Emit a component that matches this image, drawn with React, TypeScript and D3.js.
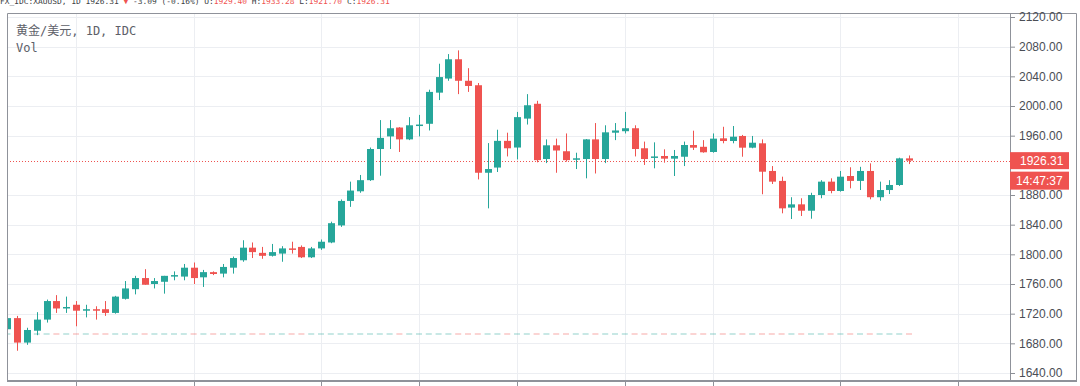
import React, { useEffect, useRef } from 'react';
import * as d3 from 'd3';

// XAUUSD daily candles (oldest first)
const opens = [
  1699, 1714, 1681, 1697, 1712, 1737, 1727, 1732, 1724, 1726,
  1726, 1721, 1740, 1753, 1768, 1760, 1763, 1770, 1770, 1782,
  1769, 1776, 1774, 1782, 1792, 1809, 1802, 1798, 1801, 1808,
  1810, 1796, 1808, 1816, 1839, 1872, 1885, 1900, 1942, 1959,
  1971, 1955, 1974, 1976, 2018, 2037, 2063, 2034, 2028, 1910,
  1917, 1953, 1944, 1983, 2003, 1928.5, 1947, 1939, 1928, 1928.5,
  1955, 1928.5, 1964, 1966, 1970, 1943, 1930, 1932.6, 1929, 1931.6,
  1947.4, 1945, 1938, 1956.4, 1952.8, 1959.6, 1943.8, 1949.7, 1912.4, 1899,
  1863, 1867.4, 1858.8, 1880, 1898, 1885.4, 1905.6, 1899, 1912.4, 1877,
  1886.7, 1893.5, 1929.4,
];
const highs = [
  1716, 1717, 1701, 1722, 1739, 1745, 1743, 1737, 1732, 1730,
  1737, 1744, 1764, 1771, 1780, 1768, 1771, 1777, 1787, 1789,
  1779, 1777, 1787, 1797, 1819, 1816, 1810, 1814, 1811, 1817,
  1812, 1810, 1820, 1844, 1874, 1898, 1907, 1944, 1981, 1981,
  1971.5, 1985, 1988, 2022, 2057, 2070, 2075, 2051, 2031, 1950,
  1968, 1964, 1992, 2016, 2007, 1955, 1956, 1963, 1937, 1955.5,
  1977, 1974, 1977, 1992, 1974, 1952, 1951, 1941.6, 1940.7, 1952,
  1966.7, 1954, 1963, 1972, 1973, 1961, 1959.6, 1955, 1919, 1904.7,
  1877, 1875.6, 1883, 1900, 1902.5, 1912.4, 1917.4, 1918, 1922.7, 1898,
  1900, 1930.3, 1933.28,
];
const lows = [
  1696, 1670, 1678, 1691, 1708, 1721, 1721, 1703, 1715, 1712,
  1717, 1720, 1739, 1746, 1759, 1754, 1747, 1765, 1765, 1760,
  1756, 1772, 1769, 1774, 1790, 1795, 1794, 1797, 1790, 1801,
  1795, 1795, 1806, 1815, 1837, 1864, 1883, 1899, 1906, 1942,
  1938, 1954, 1959, 1967, 2008, 2034, 2016, 2019, 1901, 1862,
  1911, 1932, 1928, 1975, 1924, 1923, 1910, 1925, 1915, 1902.5,
  1909, 1923, 1954, 1963, 1932, 1920.5, 1916, 1923.6, 1905.6, 1919,
  1940.7, 1937, 1937, 1949.7, 1949.7, 1931.6, 1943, 1881, 1894.8, 1855.3,
  1847.6, 1851.7, 1848, 1875.6, 1882.3, 1884.5, 1889, 1886.7, 1874.2, 1872.3,
  1881.3, 1892.2, 1921.7,
];
const closes = [
  1714, 1681, 1698, 1712, 1737, 1727, 1729, 1724, 1726, 1724,
  1721, 1743, 1754, 1768, 1759, 1764, 1771, 1772, 1782, 1768,
  1776, 1773.5, 1783, 1795, 1809, 1803, 1798, 1803, 1808, 1806.6,
  1796, 1808, 1817, 1842, 1872, 1886, 1900, 1942, 1957, 1970,
  1955, 1974, 1975, 2019, 2039, 2063, 2034, 2027, 1910, 1915,
  1953, 1943, 1985, 2001, 1927, 1947, 1940, 1927, 1929.5, 1955,
  1928.5, 1964.5, 1967, 1970, 1942, 1928.5, 1932, 1929, 1932.6, 1947.4,
  1943.8, 1937.6, 1956, 1952.8, 1958.6, 1943.8, 1950.5, 1911.4, 1898, 1862,
  1867.4, 1858.8, 1880, 1898, 1885.4, 1904.7, 1899, 1912.4, 1877, 1886.7,
  1893.5, 1929.4, 1926.31,
];

const priceTicks = [1640, 1680, 1720, 1760, 1800, 1840, 1880, 1920, 1960, 2000, 2040, 2080, 2120]
  .filter(v => v !== 1920);
const gridBars = [7, 19, 32, 42, 52, 63, 72, 85, 97];

const lastPrice = 1926.31;
const lastPriceLabel = '1926.31';
const countdownLabel = '14:47:37';
const legendTitle = '黄金/美元, 1D, IDC';
const volLabel = 'Vol';
const headerParts: [string, boolean][] = [
  ['FX_IDC:XAUUSD, 1D 1926.31 ', false],
  ['▼ ', true],
  ['-3.09 (-0.16%) O:', false],
  ['1929.40', true],
  [' H:', false],
  ['1933.28', true],
  [' L:', false],
  ['1921.70', true],
  [' C:', false],
  ['1926.31', true],
];

const UP = '#26a69a';
const DOWN = '#ef5350';

const App: React.FC = () => {
  const svgRef = useRef<SVGSVGElement>(null);

  useEffect(() => {
    if (!svgRef.current) return;
    const width = 1080;
    const height = 386;
    const pane = { left: 7, top: 13, right: 1010, bottom: 380, outer: 1076 };

    const svg = d3.select(svgRef.current).attr('width', width).attr('height', height);
    svg.selectAll('*').remove();

    const x = d3.scaleLinear().domain([0, 92]).range([7.4, 909]);
    const y = d3.scaleLinear().domain([1640, 2120]).range([373, 17]);

    svg.append('rect').attr('width', width).attr('height', height).attr('fill', '#fff');

    svg.append('defs').append('clipPath').attr('id', 'pane')
      .append('rect')
      .attr('x', pane.left).attr('y', pane.top)
      .attr('width', pane.right - pane.left).attr('height', pane.bottom - pane.top);

    // grid
    const grid = svg.append('g').attr('stroke', '#eceef2').attr('stroke-width', 1);
    grid.selectAll('line.h').data(priceTicks).join('line')
      .attr('x1', pane.left).attr('x2', pane.right)
      .attr('y1', d => Math.round(y(d)) + 0.5).attr('y2', d => Math.round(y(d)) + 0.5);
    grid.selectAll('line.v').data(gridBars).join('line')
      .attr('x1', d => Math.round(x(d)) + 0.5).attr('x2', d => Math.round(x(d)) + 0.5)
      .attr('y1', pane.top).attr('y2', pane.bottom);

    const idx = d3.range(opens.length);
    const plot = svg.append('g').attr('clip-path', 'url(#pane)');

    // volume (flat, near zero)
    plot.append('g').selectAll('rect').data(idx).join('rect')
      .attr('x', i => x(i) - 3).attr('y', 333.5)
      .attr('width', 6).attr('height', 1)
      .attr('fill', i => (closes[i] >= opens[i] ? UP : DOWN))
      .attr('opacity', 0.5);

    // last price line
    plot.append('line')
      .attr('x1', pane.left).attr('x2', pane.right)
      .attr('y1', Math.round(y(lastPrice)) + 0.5).attr('y2', Math.round(y(lastPrice)) + 0.5)
      .attr('stroke', DOWN).attr('stroke-dasharray', '1,2');

    const candles = plot.append('g').selectAll('g').data(idx).join('g')
      .attr('fill', i => (closes[i] >= opens[i] ? UP : DOWN))
      .attr('stroke', i => (closes[i] >= opens[i] ? UP : DOWN));
    candles.append('line')
      .attr('x1', i => Math.round(x(i)) + 0.5).attr('x2', i => Math.round(x(i)) + 0.5)
      .attr('y1', i => y(highs[i])).attr('y2', i => y(lows[i]));
    candles.append('rect')
      .attr('stroke', 'none')
      .attr('x', i => Math.round(x(i)) - 3)
      .attr('width', 7)
      .attr('y', i => y(Math.max(opens[i], closes[i])))
      .attr('height', i => Math.max(1.5, Math.abs(y(opens[i]) - y(closes[i]))));

    // frame
    const frame = svg.append('g').attr('stroke', '#8f929a').attr('fill', 'none');
    frame.append('path')
      .attr('d', `M${pane.left + 0.5},${pane.bottom}V${pane.top + 0.5}H${pane.outer + 0.5}V${pane.bottom}`);
    frame.append('line').attr('x1', pane.right + 0.5).attr('x2', pane.right + 0.5)
      .attr('y1', pane.top).attr('y2', pane.bottom);
    frame.append('line').attr('x1', pane.left).attr('x2', pane.outer + 1)
      .attr('y1', pane.bottom + 1).attr('y2', pane.bottom + 1).attr('stroke-width', 2);

    // time axis ticks (labels cut off below)
    frame.selectAll('line.t').data(gridBars).join('line')
      .attr('x1', d => Math.round(x(d)) + 0.5).attr('x2', d => Math.round(x(d)) + 0.5)
      .attr('y1', pane.bottom + 2).attr('y2', height);

    // price axis
    const axis = svg.append('g')
      .attr('transform', `translate(${pane.right},0)`)
      .call(d3.axisRight(y).tickValues(priceTicks).tickFormat(d3.format('.2f')).tickSize(5).tickPadding(4));
    axis.select('.domain').remove();
    axis.selectAll('line').attr('stroke', '#8c8f96');
    axis.selectAll('text')
      .attr('fill', '#4a4d55')
      .attr('font-family', 'Liberation Sans, Arial, sans-serif')
      .attr('font-size', 12);

    // last price + countdown labels
    const tag = svg.append('g').attr('font-family', 'Liberation Sans, Arial, sans-serif')
      .attr('font-size', 12).attr('fill', '#fff');
    tag.append('rect').attr('x', pane.right).attr('y', y(lastPrice) - 8.5)
      .attr('width', 59).attr('height', 17).attr('fill', DOWN);
    tag.append('text').attr('x', pane.right + 10).attr('y', y(lastPrice) + 4.5).text(lastPriceLabel);
    tag.append('rect').attr('x', pane.right).attr('y', y(lastPrice) + 11)
      .attr('width', 59).attr('height', 18).attr('fill', DOWN);
    tag.append('text').attr('x', pane.right + 6).attr('y', y(lastPrice) + 24.5).text(countdownLabel);

    // legend
    const legend = svg.append('g')
      .attr('font-family', 'DejaVu Sans Mono, Noto Sans CJK SC, monospace')
      .attr('fill', '#5d6068').attr('font-size', 12);
    legend.append('text').attr('x', 16).attr('y', 35).text(legendTitle);
    legend.append('text').attr('x', 16).attr('y', 52).text(volLabel);

    // header row (cropped at top, as in the screenshot)
    const header = svg.append('text').attr('x', 0).attr('y', 4)
      .attr('font-family', 'DejaVu Sans Mono, monospace').attr('font-size', 7.9).attr('fill', '#3c3f46');
    headerParts.forEach(([t, red]) => {
      header.append('tspan').attr('fill', red ? DOWN : '#3c3f46').text(t);
    });
  }, []);

  return (
    <div style={{ position: 'fixed', left: 0, top: 0 }}>
      <svg ref={svgRef} style={{ display: 'block' }}></svg>
    </div>
  );
};

export default App;
